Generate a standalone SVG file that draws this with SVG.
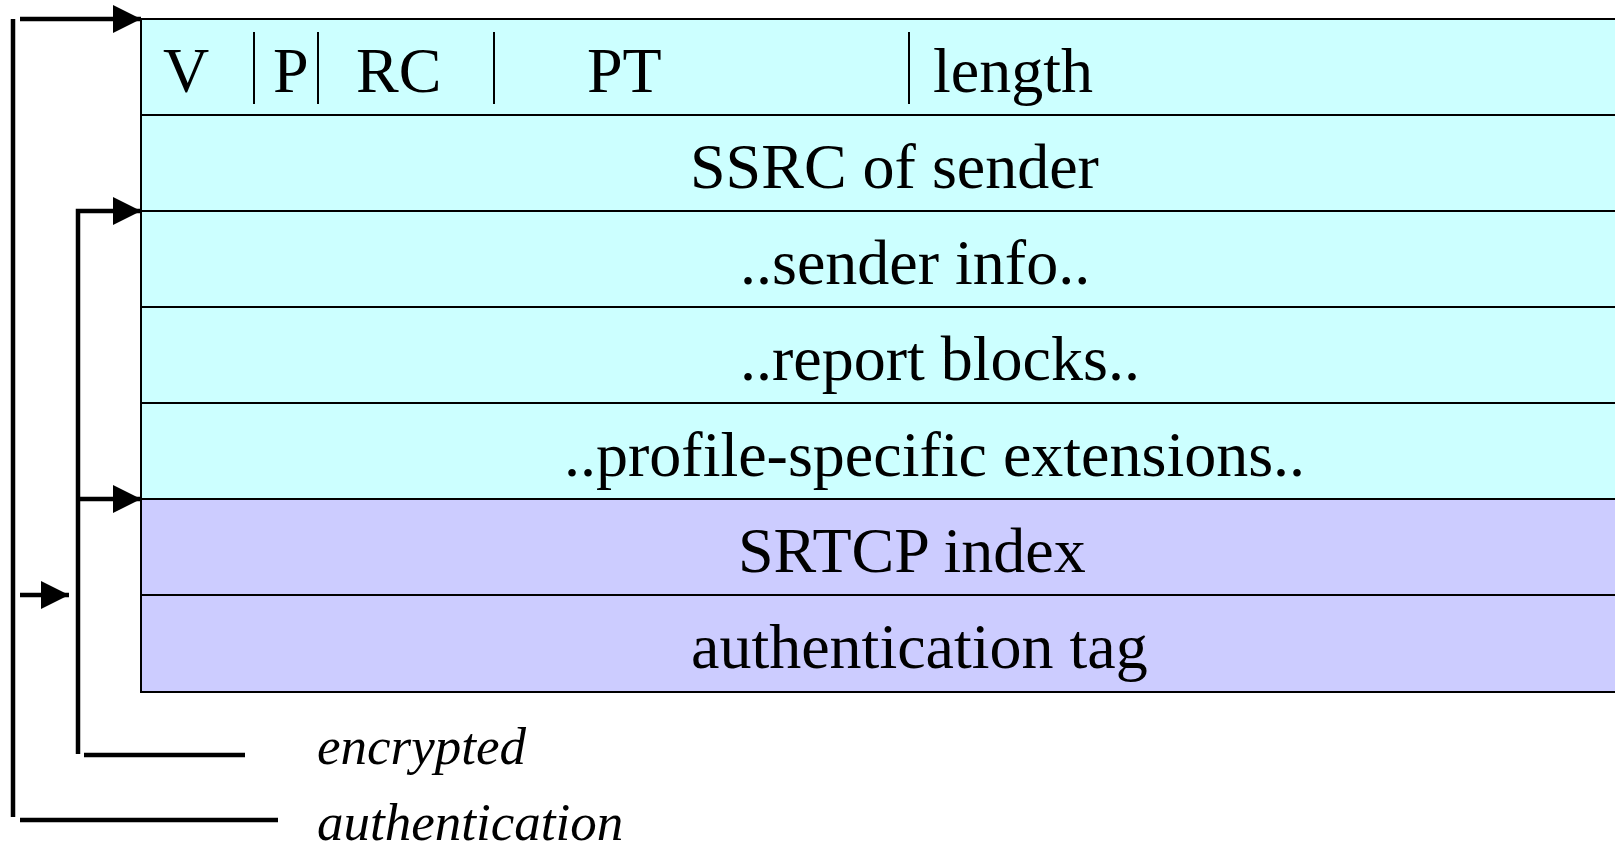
<svg xmlns="http://www.w3.org/2000/svg" width="1615" height="848" viewBox="0 0 1615 848">
  <style>
    .hdr { fill: #ccffff; stroke: #000; stroke-width: 2; }
    .sec { fill: #ccccff; stroke: #000; stroke-width: 2; }
    .lbl { font-family: "Liberation Serif", "Times New Roman", serif; font-size: 64px; fill: #000; }
    .note { font-family: "Liberation Serif", "Times New Roman", serif; font-size: 53px; font-style: italic; fill: #000; }
    .bar { stroke: #000; stroke-width: 2; }
    .wire { stroke: #000; stroke-width: 4.5; fill: none; }
    .head { fill: #000; }
  </style>
  <defs>
    <marker id="tip" markerUnits="userSpaceOnUse" markerWidth="28" markerHeight="28" refX="28" refY="14" orient="auto">
      <path d="M0,0 L28,14 L0,28 Z" class="head"/>
    </marker>
  </defs>
  <rect width="1615" height="848" fill="#fff"/>

  <!-- packet fields, one row each -->
  <g id="row-header">
    <rect class="hdr" x="141" y="19" width="1490" height="96"/>
    <text class="lbl" x="163" y="92">V</text>
    <line class="bar" x1="254" y1="32" x2="254" y2="104"/>
    <text class="lbl" x="273" y="92">P</text>
    <line class="bar" x1="318" y1="32" x2="318" y2="104"/>
    <text class="lbl" x="356" y="92">RC</text>
    <line class="bar" x1="494" y1="32" x2="494" y2="104"/>
    <text class="lbl" x="587" y="92">PT</text>
    <line class="bar" x1="909" y1="32" x2="909" y2="104"/>
    <text class="lbl" x="933" y="92">length</text>
  </g>
  <g id="row-ssrc">
    <rect class="hdr" x="141" y="115" width="1490" height="96"/>
    <text class="lbl" x="690" y="188">SSRC of sender</text>
  </g>
  <g id="row-sender-info">
    <rect class="hdr" x="141" y="211" width="1490" height="96"/>
    <text class="lbl" x="740" y="284">..sender info..</text>
  </g>
  <g id="row-report-blocks">
    <rect class="hdr" x="141" y="307" width="1490" height="96"/>
    <text class="lbl" x="740" y="380">..report blocks..</text>
  </g>
  <g id="row-extensions">
    <rect class="hdr" x="141" y="403" width="1490" height="96"/>
    <text class="lbl" x="564" y="476">..profile-specific extensions..</text>
  </g>
  <g id="row-index">
    <rect class="sec" x="141" y="499" width="1490" height="96"/>
    <text class="lbl" x="738" y="572">SRTCP index</text>
  </g>
  <g id="row-tag">
    <rect class="sec" x="141" y="595" width="1490" height="97"/>
    <text class="lbl" x="691" y="668">authentication tag</text>
  </g>

  <!-- coverage brackets -->
  <g id="connectors">
    <line class="wire" x1="13" y1="19" x2="13" y2="817"/>
    <line class="wire" x1="20" y1="19" x2="141" y2="19" marker-end="url(#tip)"/>
    <line class="wire" x1="20" y1="595" x2="69" y2="595" marker-end="url(#tip)"/>
    <line class="wire" x1="20" y1="820" x2="278" y2="820"/>
    <path class="wire" d="M78,754 L78,211 L141,211" marker-end="url(#tip)"/>
    <line class="wire" x1="78" y1="499" x2="141" y2="499" marker-end="url(#tip)"/>
    <line class="wire" x1="84" y1="755" x2="245" y2="755"/>
  </g>

  <g id="legend-encrypted">
    <text class="note" x="317" y="764">encrypted</text>
  </g>
  <g id="legend-authentication">
    <text class="note" x="317" y="840">authentication</text>
  </g>
</svg>
